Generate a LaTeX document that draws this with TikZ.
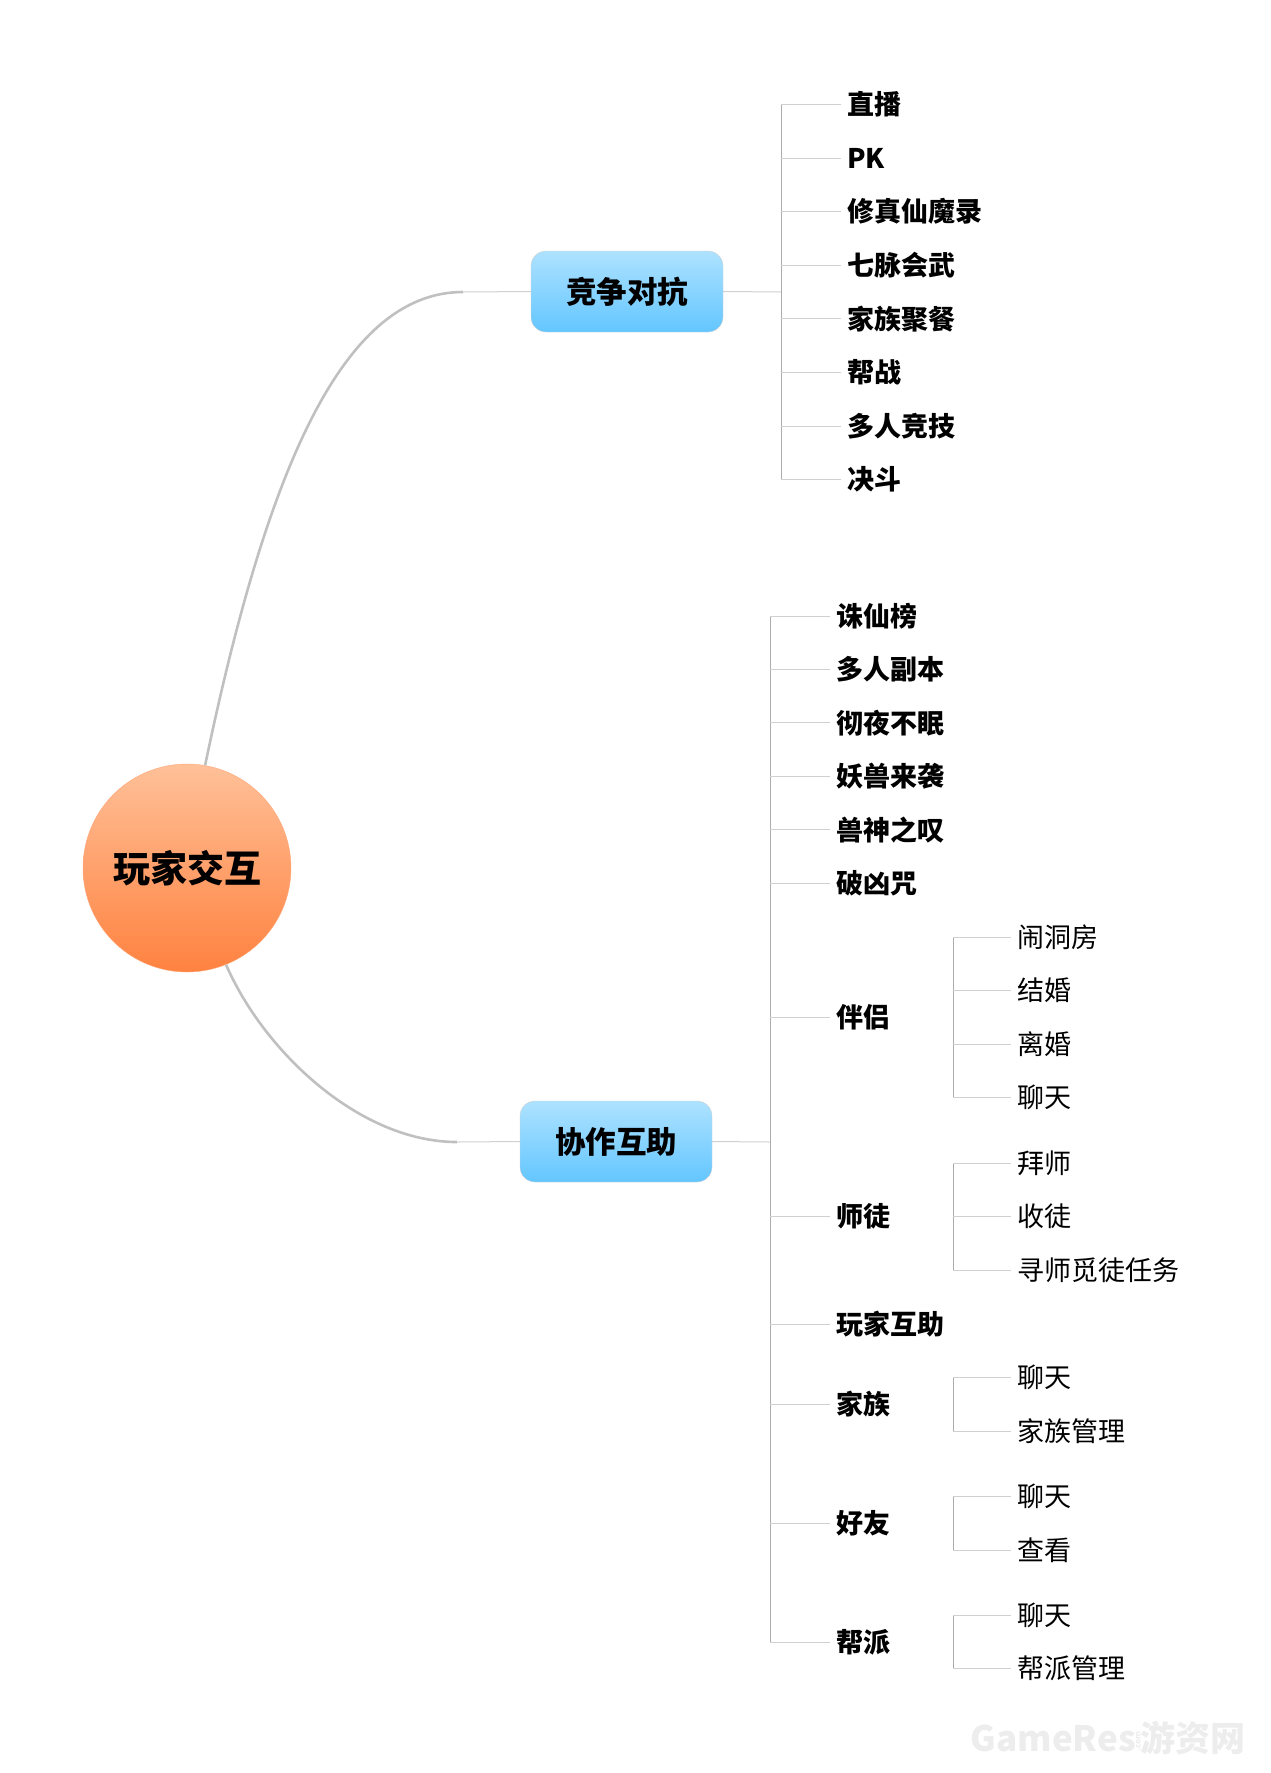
\documentclass[tikz,border=0pt]{standalone}
\usepackage{fontspec}
\newfontfamily\cjk{Noto Sans CJK SC}
\usetikzlibrary{positioning}

\definecolor{rootorange}{RGB}{255,130,64}
\definecolor{rootpeach}{RGB}{255,192,152}
\definecolor{boxblue}{RGB}{99,198,255}
\definecolor{boxlight}{RGB}{174,226,255}
\definecolor{curvegray}{RGB}{192,192,192}
\definecolor{bargray}{RGB}{172,172,172}
\definecolor{twiggray}{RGB}{208,208,208}

\begin{document}
\begin{tikzpicture}[
    x=1pt, y=-1pt,
    root/.style={circle, minimum size=208pt, inner sep=0pt, draw=rootorange!70,
        top color=rootpeach, middle color=rootorange, bottom color=rootorange,
        font=\cjk\bfseries\fontsize{37}{40}\selectfont},
    branch/.style={rectangle, rounded corners=15pt, minimum width=192pt, minimum height=81pt,
        draw=gray!35, top color=boxlight, middle color=boxblue, bottom color=boxblue,
        font=\cjk\bfseries\fontsize{30.5}{34}\selectfont},
    leaf/.style={anchor=west, inner xsep=6pt, inner ysep=0pt, font=\cjk\bfseries\fontsize{27}{30}\selectfont},
    subleaf/.style={anchor=west, inner xsep=6pt, inner ysep=0pt, font=\cjk\fontsize{27}{30}\selectfont},
    curve/.style={draw=curvegray, line width=2.6pt},
    link/.style={draw=twiggray, line width=1pt},
    bar/.style={draw=bargray, line width=1pt},
    twig/.style={draw=twiggray, line width=1pt}
]
\useasboundingbox (0,0) rectangle (1270,1773);

% --- Main nodes ---
\node[root] (root) at (187,868) {玩家交互};
\node[branch] (fight) at (627,291.5) {竞争对抗};
\node[branch] (help) at (616,1141.5) {协作互助};

% --- Curves from the centre ---
\coordinate (jt) at (463,292);
\coordinate (jb) at (457,1142);
\draw[curve] (root.80) .. controls (265,478) and (340,292) .. (jt);
\draw[curve] (root.-68) .. controls (264,1052) and (360,1142) .. (jb);
\draw[link] (jt) -- (fight.west);
\draw[link] (jb) -- (help.west);

% --- Bars ---
\coordinate (tbar) at (781,292);
\coordinate (bbar) at (770,1142);
\coordinate (sbar) at (953,0);

% --- Competition leaves ---
\node[leaf] (zb) at (841,104.3) {直播};
\node[leaf] (pk) at (841,158) {PK};
\node[leaf] (xz) at (841,211.7) {修真仙魔录};
\node[leaf] (qm) at (841,265.3) {七脉会武};
\node[leaf] (jc) at (841,318.9) {家族聚餐};
\node[leaf] (bz) at (841,372.5) {帮战};
\node[leaf] (dj) at (841,426.1) {多人竞技};
\node[leaf] (jd) at (841,479.7) {决斗};

\draw[link] (fight.east) -- (tbar);
\draw[bar] (zb.west -| tbar) -- (jd.west -| tbar);
\draw[twig] (zb.west -| tbar) -- (zb.west) (pk.west -| tbar) -- (pk.west)
    (xz.west -| tbar) -- (xz.west) (qm.west -| tbar) -- (qm.west)
    (jc.west -| tbar) -- (jc.west) (bz.west -| tbar) -- (bz.west)
    (dj.west -| tbar) -- (dj.west) (jd.west -| tbar) -- (jd.west);

% --- Cooperation leaves ---
\node[leaf] (zx) at (830,616) {诛仙榜};
\node[leaf] (fb) at (830,669.4) {多人副本};
\node[leaf] (cy) at (830,722.8) {彻夜不眠};
\node[leaf] (yx) at (830,776.2) {妖兽来袭};
\node[leaf] (ss) at (830,829.6) {兽神之叹};
\node[leaf] (px) at (830,883) {破凶咒};
\node[leaf] (bl) at (830,1017.3) {伴侣};
\node[leaf] (st) at (830,1216.7) {师徒};
\node[leaf] (hz) at (830,1324) {玩家互助};
\node[leaf] (jz) at (830,1404.3) {家族};
\node[leaf] (hy) at (830,1523.3) {好友};
\node[leaf] (bp) at (830,1642.3) {帮派};

\draw[link] (help.east) -- (bbar);
\draw[bar] (zx.west -| bbar) -- (bp.west -| bbar);
\draw[twig] (zx.west -| bbar) -- (zx.west) (fb.west -| bbar) -- (fb.west)
    (cy.west -| bbar) -- (cy.west) (yx.west -| bbar) -- (yx.west)
    (ss.west -| bbar) -- (ss.west) (px.west -| bbar) -- (px.west)
    (bl.west -| bbar) -- (bl.west) (st.west -| bbar) -- (st.west)
    (hz.west -| bbar) -- (hz.west) (jz.west -| bbar) -- (jz.west)
    (hy.west -| bbar) -- (hy.west) (bp.west -| bbar) -- (bp.west);

% --- Second level ---
\node[subleaf] (ndf) at (1011,937.3) {闹洞房};
\node[subleaf] (jh) at (1011,990.7) {结婚};
\node[subleaf] (lh) at (1011,1044.1) {离婚};
\node[subleaf] (lt1) at (1011,1097.6) {聊天};
\node[subleaf] (bs) at (1011,1163.3) {拜师};
\node[subleaf] (sd) at (1011,1216.7) {收徒};
\node[subleaf] (xs) at (1011,1270) {寻师觅徒任务};
\node[subleaf] (lt2) at (1011,1377.3) {聊天};
\node[subleaf] (jg) at (1011,1431) {家族管理};
\node[subleaf] (lt3) at (1011,1496.7) {聊天};
\node[subleaf] (ck) at (1011,1550) {查看};
\node[subleaf] (lt4) at (1011,1615) {聊天};
\node[subleaf] (bg) at (1011,1668.3) {帮派管理};

\draw[bar] (ndf.west -| sbar) -- (lt1.west -| sbar);
\draw[bar] (bs.west -| sbar) -- (xs.west -| sbar);
\draw[bar] (lt2.west -| sbar) -- (jg.west -| sbar);
\draw[bar] (lt3.west -| sbar) -- (ck.west -| sbar);
\draw[bar] (lt4.west -| sbar) -- (bg.west -| sbar);
\draw[twig] (ndf.west -| sbar) -- (ndf.west) (jh.west -| sbar) -- (jh.west)
    (lh.west -| sbar) -- (lh.west) (lt1.west -| sbar) -- (lt1.west)
    (bs.west -| sbar) -- (bs.west) (sd.west -| sbar) -- (sd.west)
    (xs.west -| sbar) -- (xs.west) (lt2.west -| sbar) -- (lt2.west)
    (jg.west -| sbar) -- (jg.west) (lt3.west -| sbar) -- (lt3.west)
    (ck.west -| sbar) -- (ck.west) (lt4.west -| sbar) -- (lt4.west)
    (bg.west -| sbar) -- (bg.west);

% --- Watermark ---
\node[anchor=east, inner sep=0pt, text=black!7, font=\cjk\bfseries\fontsize{35}{38}\selectfont] (wm) at (1246,1738)
    {GameRes\rotatebox{90}{\fontsize{8}{8}\selectfont .com}游资网};

\end{tikzpicture}
\end{document}
